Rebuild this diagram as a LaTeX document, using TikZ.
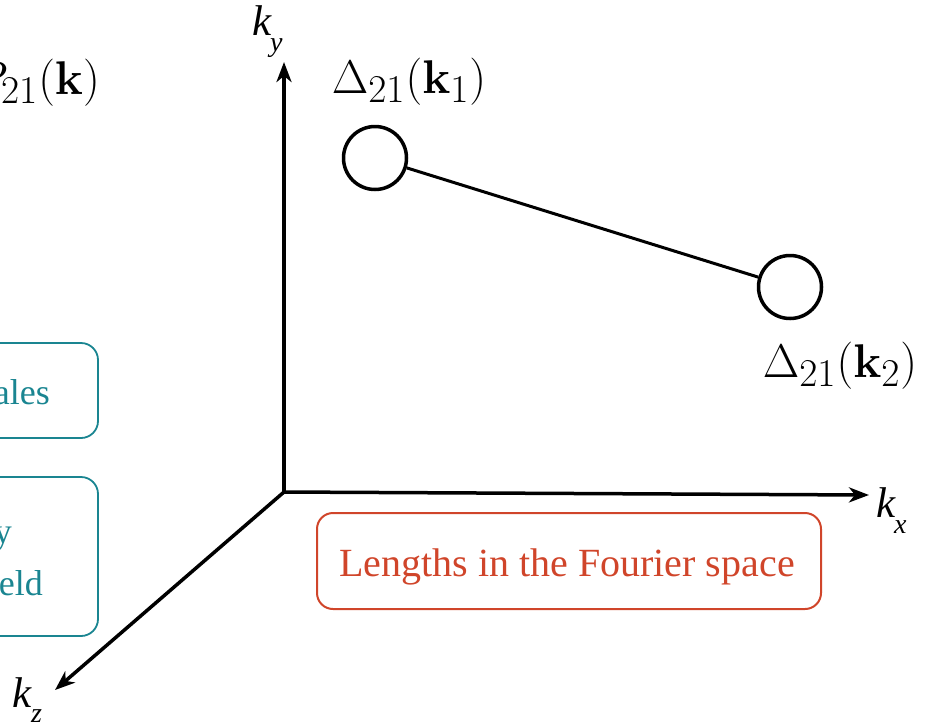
\documentclass[tikz,border=0pt]{standalone}
\usepackage{graphicx}
\usepackage[no-math]{fontspec}
\newfontfamily\tms{Liberation Serif}
\usetikzlibrary{arrows.meta}
\definecolor{tealbox}{RGB}{26,133,145}
\definecolor{rustbox}{RGB}{208,69,42}
\newcommand{\bigmath}[1]{\scalebox{1.9}{\Huge$#1$}}
\begin{document}
\begin{tikzpicture}[x=1pt,y=-1pt,
  axis/.style={line width=3.5pt,-{Stealth[length=20pt,width=15pt,inset=6pt]}},
  ball/.style={circle,draw,line width=3.5pt,minimum size=63pt,inner sep=0pt},
  mlab/.style={inner sep=0pt},
  kbig/.style={font=\tms\itshape\fontsize{43}{46}\selectfont,inner sep=0pt},
  ksmall/.style={font=\tms\itshape\fontsize{28}{30}\selectfont,inner sep=0pt},
  tealtext/.style={font=\tms\fontsize{36}{40}\selectfont,text=tealbox,inner sep=0pt},
  tealframe/.style={draw=tealbox,line width=1.8pt,rounded corners=17pt},
  redbox/.style={draw=rustbox,line width=2pt,rounded corners=16pt,
    minimum width=504pt,minimum height=96pt,inner sep=0pt},
  redtext/.style={text=rustbox,font=\tms\fontsize{40}{44}\selectfont,inner sep=0pt}]
\useasboundingbox (0,0) rectangle (928,724);
\clip (0,0) rectangle (928,724);
% left, cropped parts
\node[mlab,anchor=base east] (p21) at (100,94) {\bigmath{P_{21}(\mathbf{k})}};
\draw[tealframe] (-200,343) rectangle (98,438);
\node[tealtext,anchor=base east] (t1) at (50,404) {ales};
\draw[tealframe] (-200,477) rectangle (98,636);
\node[tealtext,anchor=base east] (t2) at (12,543) {y};
\node[tealtext,anchor=base east] (t3) at (43,595) {eld};
% axes
\coordinate (O) at (284,492);
\coordinate (Ytip) at (284,62);
\coordinate (Xtip) at (869,495);
\coordinate (Ztip) at (55,690);
\draw[axis] (O) -- (Ytip);
\draw[axis] (O) -- (Xtip);
\draw[axis] (O) -- (Ztip);
\node[kbig,anchor=base west] (ky) at (252,35) {k};
\node[ksmall,anchor=base west] (kys) at (270,51) {y};
\node[kbig,anchor=base west] (kx) at (876,517) {k};
\node[ksmall,anchor=base west] (kxs) at (894,533) {x};
\node[kbig,anchor=base west] (kz) at (12,707) {k};
\node[ksmall,anchor=base west] (kzs) at (31,722) {z};
% points
\node[ball] (c1) at (375,158) {};
\node[ball] (c2) at (790,287) {};
\draw[line width=3pt] (c1) -- (c2);
\node[mlab] (d1) at (409,82) {\bigmath{\Delta_{21}(\mathbf{k}_1)}};
\node[mlab] (d2) at (840,366) {\bigmath{\Delta_{21}(\mathbf{k}_2)}};
% label box
\node[redbox] (len) at (569,561) {};
\node[redtext,anchor=base] (lentext) at (567,576) {Lengths in the Fourier space};
\end{tikzpicture}
\end{document}
